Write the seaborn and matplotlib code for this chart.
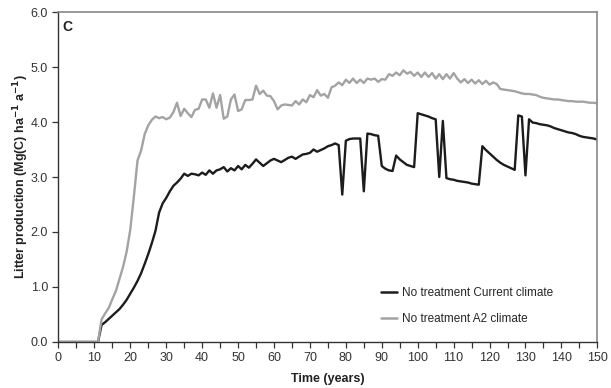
import numpy as np
import pandas as pd
import matplotlib
matplotlib.use("Agg")
import matplotlib.pyplot as plt
import seaborn as sns
from matplotlib.ticker import MultipleLocator

years = list(range(0, 151))

current_climate = [
    0, 0, 0, 0, 0, 0, 0, 0, 0, 0, 0, 0,
    0.31, 0.36, 0.42, 0.48, 0.54, 0.60, 0.68, 0.77, 0.88, 0.99,
    1.11, 1.25, 1.42, 1.60, 1.80, 2.02, 2.35, 2.52, 2.62, 2.74,
    2.84, 2.90, 2.97, 3.06, 3.02, 3.06, 3.05, 3.03, 3.08, 3.04,
    3.12, 3.06, 3.12, 3.14, 3.18, 3.10, 3.16, 3.12, 3.20, 3.14,
    3.22, 3.17, 3.24, 3.32, 3.26, 3.20, 3.25, 3.30, 3.33, 3.30,
    3.27, 3.31, 3.35, 3.37, 3.33, 3.37, 3.41, 3.42, 3.44, 3.50,
    3.46, 3.49, 3.52, 3.56, 3.58, 3.61, 3.58, 2.68, 3.66, 3.69,
    3.70, 3.70, 3.70, 2.74, 3.79, 3.78, 3.76, 3.75, 3.20, 3.15,
    3.12, 3.11, 3.39, 3.32, 3.27, 3.22, 3.20, 3.18, 4.16, 4.14,
    4.12, 4.10, 4.07, 4.05, 3.00, 4.02, 2.98, 2.96, 2.95, 2.93,
    2.92, 2.91, 2.90, 2.88, 2.87, 2.86, 3.56, 3.49, 3.43, 3.37,
    3.31, 3.26, 3.22, 3.19, 3.16, 3.13, 4.12, 4.10, 3.03, 4.05,
    3.99, 3.98, 3.96, 3.95, 3.94, 3.92, 3.89, 3.87, 3.85, 3.83,
    3.81, 3.80, 3.78, 3.75, 3.73, 3.72, 3.71, 3.70, 3.68,
]

a2_climate = [
    0, 0, 0, 0, 0, 0, 0, 0, 0, 0, 0, 0,
    0.41, 0.52, 0.62, 0.78, 0.93, 1.15, 1.37, 1.65, 2.05, 2.65,
    3.30, 3.48, 3.78, 3.94, 4.04, 4.10, 4.07, 4.09, 4.05, 4.08,
    4.18, 4.35, 4.11, 4.24, 4.16, 4.09, 4.22, 4.24, 4.41, 4.41,
    4.26, 4.52, 4.26, 4.49, 4.06, 4.10, 4.41, 4.50, 4.20, 4.23,
    4.40, 4.40, 4.41, 4.66, 4.51, 4.57, 4.48, 4.47, 4.38, 4.23,
    4.30, 4.32, 4.31, 4.30, 4.38, 4.32, 4.41, 4.36, 4.49, 4.45,
    4.58, 4.48, 4.51, 4.44, 4.63, 4.66, 4.72, 4.67, 4.77, 4.71,
    4.79, 4.71, 4.77, 4.71, 4.79, 4.77, 4.79, 4.73, 4.78, 4.77,
    4.87, 4.84, 4.90, 4.85, 4.94, 4.88, 4.91, 4.84, 4.90, 4.82,
    4.90, 4.82, 4.89, 4.79, 4.87, 4.78, 4.87, 4.79, 4.89, 4.79,
    4.72, 4.78, 4.71, 4.77, 4.70, 4.76, 4.69, 4.75, 4.68, 4.72,
    4.69, 4.60, 4.59, 4.58, 4.57, 4.56, 4.54, 4.52, 4.51, 4.51,
    4.50, 4.49, 4.46, 4.44, 4.43, 4.42, 4.41, 4.41, 4.40, 4.39,
    4.38, 4.38, 4.37, 4.37, 4.37, 4.36, 4.35, 4.35, 4.34,
]

series_names = ["No treatment Current climate", "No treatment A2 climate"]
x_ticks = list(range(0, 151, 10))
y_ticks = [0, 1, 2, 3, 4, 5, 6]
y_tick_labels = ["0.0", "1.0", "2.0", "3.0", "4.0", "5.0", "6.0"]

df = pd.DataFrame({
    "year": years * 2,
    "value": current_climate + a2_climate,
    "series": [series_names[0]] * len(years) + [series_names[1]] * len(years),
})

sns.set_style("ticks")
plt.rcParams["font.family"] = ["Liberation Sans", "DejaVu Sans"]

fig = plt.figure(figsize=(6.11, 3.88), dpi=100)
ax = fig.add_axes([0.0957, 0.1186, 0.9776 - 0.0957, 0.969 - 0.1186])

sns.lineplot(data=df, x="year", y="value", hue="series",
             hue_order=series_names,
             palette={series_names[0]: "#1c1c1c", series_names[1]: "#a3a3a3"},
             linewidth=1.7, ax=ax, legend=True)

ax.set_xlim(0, 150)
ax.set_ylim(0, 6)
ax.set_xticks(x_ticks)
ax.set_xticklabels([str(t) for t in x_ticks])
ax.xaxis.set_minor_locator(MultipleLocator(5))
ax.set_yticks(y_ticks)
ax.set_yticklabels(y_tick_labels)

ax.tick_params(axis="both", which="major", direction="out", length=4,
               width=0.9, labelsize=9, labelcolor="#333333", color="#333333")
ax.tick_params(axis="x", which="minor", direction="out", length=4,
               width=0.9, color="#333333")

for side in ["left", "bottom"]:
    ax.spines[side].set_color("#333333")
    ax.spines[side].set_linewidth(1.0)
for side in ["top", "right"]:
    ax.spines[side].set_visible(True)
    ax.spines[side].set_color("#888888")
    ax.spines[side].set_linewidth(1.2)

ax.set_xlabel("Time (years)", fontsize=9, fontweight="bold", color="#222222", labelpad=6)
ax.set_ylabel("Litter production (Mg(C) ha$^{\\mathbf{-1}}$ a$^{\\mathbf{-1}}$)",
              fontsize=9, fontweight="bold", color="#222222", labelpad=0)

ax.text(0.008, 0.975, "C", transform=ax.transAxes, fontsize=10,
        fontweight="bold", color="#222222", va="top", ha="left")

leg = ax.legend(loc="lower right", bbox_to_anchor=(0.937, 0.02), frameon=False,
                fontsize=8.5, handlelength=1.4, handletextpad=0.35,
                labelspacing=1.15, title=None)
for line in leg.get_lines():
    line.set_linewidth(1.8)

fig.savefig("out.png", dpi=100)
